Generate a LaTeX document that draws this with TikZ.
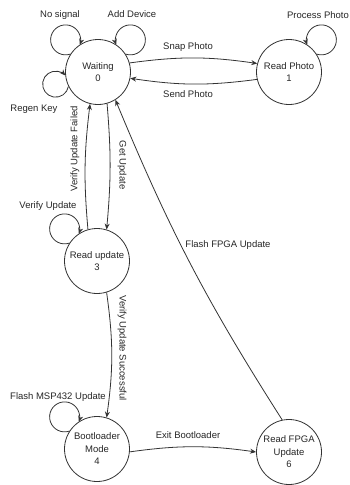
\documentclass[tikz,border=0pt]{standalone}
\usepackage{fontspec}
\setmainfont{Liberation Sans}
\usetikzlibrary{arrows.meta}
\begin{document}
\begin{tikzpicture}[x=1pt,y=1pt,
  state/.style={circle,draw=black!80,line width=0.8pt,minimum size=65pt,inner sep=0pt,align=center,font=\fontsize{9.5}{12.5}\selectfont,text=black!85},
  lbl/.style={font=\fontsize{9.5}{11}\selectfont,text=black!85,inner sep=0pt},
  edge/.style={draw=black!80,line width=0.8pt,-{Stealth[length=6pt,width=5pt]}},
]
\useasboundingbox (0,0) rectangle (349,-485);
% states
\node[state] (w) at (98,-72) {Waiting\\0};
\node[state] (r1) at (289,-72) {Read Photo\\1};
\node[state] (r3) at (97,-261) {Read update\\3};
\node[state] (b4) at (97,-449) {Bootloader\\Mode\\4};
\node[state] (f6) at (289,-452) {Read FPGA\\Update\\6};
% transitions
\draw[edge] (w.16) to[bend left=8] (r1.165);
\draw[edge] (r1.193) to[bend left=8] (w.349);
\draw[edge] (r3.106) to[bend left=6] (w.256);
\draw[edge] (w.286) to[bend left=5] (r3.73);
\draw[edge] (f6.102) to[bend left=5] (w.302);
\draw[edge] (r3.287) to[bend left=8] (b4.73);
\draw[edge] (b4.355) to[bend left=8] (f6.180);
% self loops
\draw[edge] (w.147) arc[start angle=-71.3, end angle=-378.7, radius=15];
\draw[edge] (w.33) arc[start angle=251.3, end angle=558.7, radius=15];
\draw[edge] (w.206) arc[start angle=-10, end angle=-318, radius=13];
\draw[edge] (r3.147) arc[start angle=-71.3, end angle=-378.7, radius=15];
\draw[edge] (b4.147) arc[start angle=-71.3, end angle=-378.7, radius=15];
\draw[edge] (r1.33) arc[start angle=251.3, end angle=558.7, radius=15];
% labels
\node[lbl] (lns) at (60,-15) {No signal};
\node[lbl] (lad) at (132,-14) {Add Device};
\node[lbl] (lrk) at (34,-109) {Regen Key};
\node[lbl] (lsp) at (188,-47) {Snap Photo};
\node[lbl] (lse) at (188,-94) {Send Photo};
\node[lbl] (lpp) at (318,-15) {Process Photo};
\node[lbl,rotate=90] (lvf) at (75,-149) {Verify Update Failed};
\node[lbl,rotate=-90] (lgu) at (122,-165) {Get Update};
\node[lbl] (lvu) at (48,-206) {Verify Update};
\node[lbl] (lff) at (228,-245) {Flash FPGA Update};
\node[lbl,rotate=-90] (lvs) at (122,-348) {Verify Update Successful};
\node[lbl] (lfm) at (58,-397) {Flash MSP432 Update};
\node[lbl] (leb) at (188,-435) {Exit Bootloader};
\end{tikzpicture}
\end{document}
